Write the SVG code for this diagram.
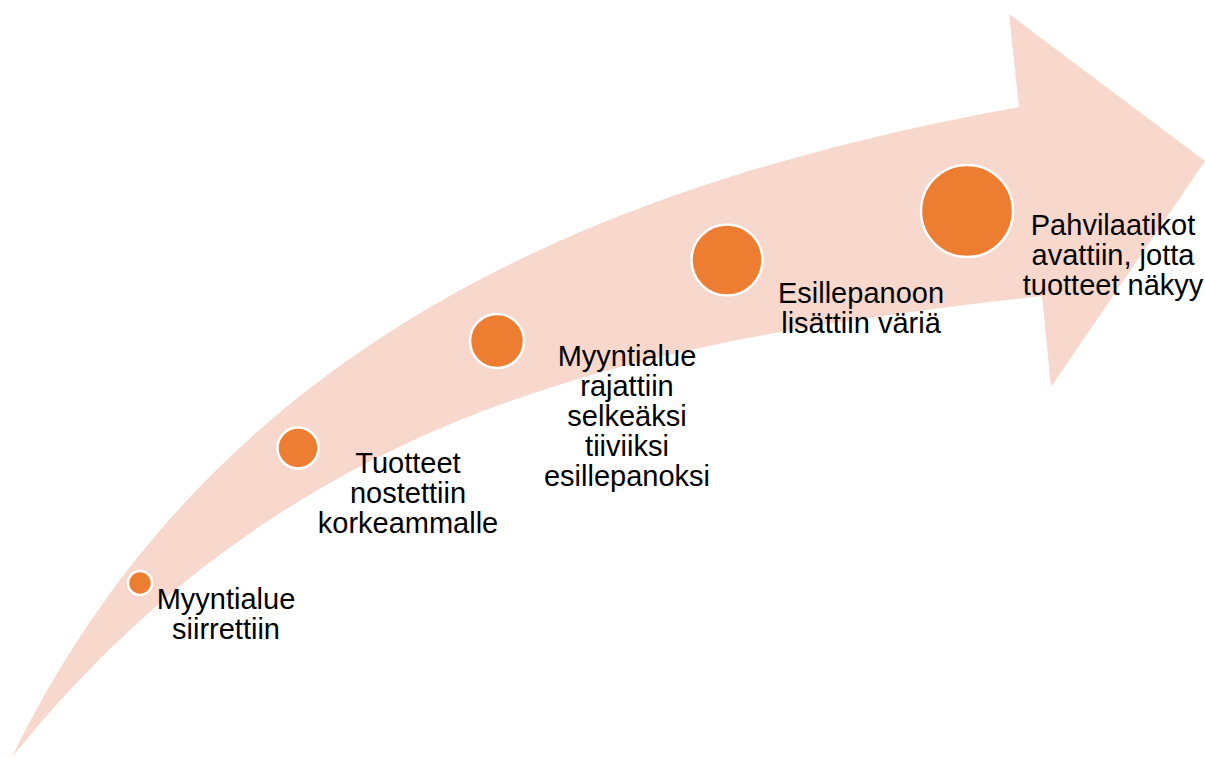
<svg xmlns="http://www.w3.org/2000/svg" width="1205" height="758" viewBox="0 0 1205 758">
  <style>
    .band { fill: #F8D8CC; }
    .dot { fill: #ED7D31; stroke: #FFFFFF; stroke-width: 2.5; }
    .lbl { font-family: "Liberation Sans", Arial, sans-serif; font-size: 29px; fill: #000000; text-anchor: middle; }
  </style>
  <rect x="0" y="0" width="1205" height="758" fill="#FFFFFF"/>

  <!-- curved upward arrow -->
  <g id="arrow">
    <path class="band" d="M 12,757 C 220,330 620,180 1019,107 L 1009,14 L 1205,161 L 1051,387 L 1042,296 C 650,340 300,400 12,757 Z"/>
  </g>

  <g id="connectors"></g>

  <g id="step1">
    <circle class="dot" cx="140" cy="583" r="12"/>
    <text class="lbl" x="226" y="609">Myyntialue</text>
    <text class="lbl" x="226" y="639">siirrettiin</text>
  </g>

  <g id="step2">
    <circle class="dot" cx="298" cy="448" r="20.5"/>
    <text class="lbl" x="408" y="473">Tuotteet</text>
    <text class="lbl" x="408" y="503">nostettiin</text>
    <text class="lbl" x="408" y="533">korkeammalle</text>
  </g>

  <g id="step3">
    <circle class="dot" cx="497" cy="341" r="27"/>
    <text class="lbl" x="627" y="366">Myyntialue</text>
    <text class="lbl" x="627" y="396">rajattiin</text>
    <text class="lbl" x="627" y="426">selkeäksi</text>
    <text class="lbl" x="627" y="456">tiiviiksi</text>
    <text class="lbl" x="627" y="486">esillepanoksi</text>
  </g>

  <g id="step4">
    <circle class="dot" cx="727" cy="260" r="35.5"/>
    <text class="lbl" x="861" y="303">Esillepanoon</text>
    <text class="lbl" x="861" y="333">lisättiin väriä</text>
  </g>

  <g id="step5">
    <circle class="dot" cx="967" cy="211" r="46"/>
    <text class="lbl" x="1113" y="235">Pahvilaatikot</text>
    <text class="lbl" x="1113" y="265">avattiin, jotta</text>
    <text class="lbl" x="1113" y="295">tuotteet näkyy</text>
  </g>
</svg>
